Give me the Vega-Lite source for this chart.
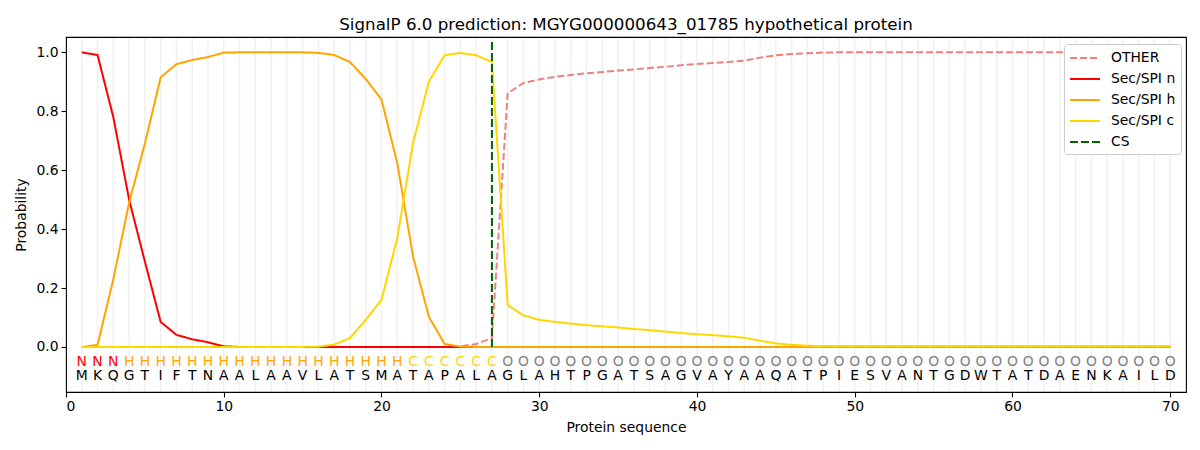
{
  "$schema": "https://vega.github.io/schema/vega-lite/v6.json",
  "width": 1120,
  "height": 355,
  "autosize": {"type": "none"},
  "padding": {"left": 66, "top": 37, "right": 14, "bottom": 58},
  "background": "white",
  "title": {
    "text": "SignalP 6.0 prediction: MGYG000000643_01785 hypothetical protein",
    "font": "DejaVu Sans",
    "fontSize": 16.7,
    "fontWeight": "normal",
    "color": "black",
    "offset": 3
  },
  "config": {
    "view": {"stroke": "black", "strokeWidth": 1.1},
    "axis": {
      "labelFont": "DejaVu Sans",
      "labelFontSize": 13.9,
      "labelColor": "black",
      "titleFont": "DejaVu Sans",
      "titleFontSize": 13.9,
      "titleFontWeight": "normal",
      "titleColor": "black",
      "tickColor": "black",
      "tickSize": 4.9,
      "tickWidth": 1.1,
      "labelPadding": 3,
      "domain": false,
      "grid": false
    },
    "legend": {
      "labelFont": "DejaVu Sans",
      "labelFontSize": 13.9,
      "labelColor": "black"
    }
  },
  "datasets": {
    "res": [
      {"pos": 1, "aa": "M", "lab": "N", "other": 0, "n": 1.0, "h": 0, "c": 0},
      {"pos": 2, "aa": "K", "lab": "N", "other": 0, "n": 0.991, "h": 0.007, "c": 0},
      {"pos": 3, "aa": "Q", "lab": "N", "other": 0, "n": 0.78, "h": 0.23, "c": 0},
      {"pos": 4, "aa": "G", "lab": "H", "other": 0, "n": 0.5, "h": 0.49, "c": 0},
      {"pos": 5, "aa": "T", "lab": "H", "other": 0, "n": 0.29, "h": 0.69, "c": 0},
      {"pos": 6, "aa": "I", "lab": "H", "other": 0, "n": 0.085, "h": 0.915, "c": 0},
      {"pos": 7, "aa": "F", "lab": "H", "other": 0, "n": 0.041, "h": 0.96, "c": 0},
      {"pos": 8, "aa": "T", "lab": "H", "other": 0, "n": 0.026, "h": 0.974, "c": 0},
      {"pos": 9, "aa": "N", "lab": "H", "other": 0, "n": 0.016, "h": 0.984, "c": 0},
      {"pos": 10, "aa": "A", "lab": "H", "other": 0, "n": 0.002, "h": 0.999, "c": 0},
      {"pos": 11, "aa": "A", "lab": "H", "other": 0, "n": 0, "h": 1.0, "c": 0},
      {"pos": 12, "aa": "L", "lab": "H", "other": 0, "n": 0, "h": 1.0, "c": 0},
      {"pos": 13, "aa": "A", "lab": "H", "other": 0, "n": 0, "h": 1.0, "c": 0},
      {"pos": 14, "aa": "A", "lab": "H", "other": 0, "n": 0, "h": 1.0, "c": 0},
      {"pos": 15, "aa": "V", "lab": "H", "other": 0, "n": 0, "h": 1.0, "c": 0},
      {"pos": 16, "aa": "L", "lab": "H", "other": 0, "n": 0, "h": 0.998, "c": 0.001},
      {"pos": 17, "aa": "A", "lab": "H", "other": 0, "n": 0, "h": 0.991, "c": 0.008},
      {"pos": 18, "aa": "T", "lab": "H", "other": 0, "n": 0, "h": 0.967, "c": 0.03},
      {"pos": 19, "aa": "S", "lab": "H", "other": 0, "n": 0, "h": 0.91, "c": 0.092},
      {"pos": 20, "aa": "M", "lab": "H", "other": 0, "n": 0, "h": 0.84, "c": 0.16},
      {"pos": 21, "aa": "A", "lab": "H", "other": 0, "n": 0, "h": 0.624, "c": 0.369},
      {"pos": 22, "aa": "T", "lab": "C", "other": 0, "n": 0, "h": 0.307, "c": 0.692},
      {"pos": 23, "aa": "A", "lab": "C", "other": 0, "n": 0, "h": 0.103, "c": 0.9},
      {"pos": 24, "aa": "P", "lab": "C", "other": 0, "n": 0, "h": 0.01, "c": 0.99},
      {"pos": 25, "aa": "A", "lab": "C", "other": 0.002, "n": 0, "h": 0.001, "c": 0.998},
      {"pos": 26, "aa": "L", "lab": "C", "other": 0.01, "n": 0, "h": 0, "c": 0.99},
      {"pos": 27, "aa": "A", "lab": "C", "other": 0.03, "n": 0, "h": 0, "c": 0.967},
      {"pos": 28, "aa": "G", "lab": "O", "other": 0.861, "n": 0, "h": 0, "c": 0.142},
      {"pos": 29, "aa": "L", "lab": "O", "other": 0.896, "n": 0, "h": 0, "c": 0.107},
      {"pos": 30, "aa": "A", "lab": "O", "other": 0.908, "n": 0, "h": 0, "c": 0.092},
      {"pos": 31, "aa": "H", "lab": "O", "other": 0.917, "n": 0, "h": 0, "c": 0.085},
      {"pos": 32, "aa": "T", "lab": "O", "other": 0.923, "n": 0, "h": 0, "c": 0.079},
      {"pos": 33, "aa": "P", "lab": "O", "other": 0.929, "n": 0, "h": 0, "c": 0.074},
      {"pos": 34, "aa": "G", "lab": "O", "other": 0.933, "n": 0, "h": 0, "c": 0.07},
      {"pos": 35, "aa": "A", "lab": "O", "other": 0.938, "n": 0, "h": 0, "c": 0.066},
      {"pos": 36, "aa": "T", "lab": "O", "other": 0.942, "n": 0, "h": 0, "c": 0.061},
      {"pos": 37, "aa": "S", "lab": "O", "other": 0.947, "n": 0, "h": 0, "c": 0.057},
      {"pos": 38, "aa": "A", "lab": "O", "other": 0.951, "n": 0, "h": 0, "c": 0.052},
      {"pos": 39, "aa": "G", "lab": "O", "other": 0.956, "n": 0, "h": 0, "c": 0.047},
      {"pos": 40, "aa": "V", "lab": "O", "other": 0.96, "n": 0, "h": 0, "c": 0.043},
      {"pos": 41, "aa": "A", "lab": "O", "other": 0.964, "n": 0, "h": 0, "c": 0.04},
      {"pos": 42, "aa": "Y", "lab": "O", "other": 0.967, "n": 0, "h": 0, "c": 0.036},
      {"pos": 43, "aa": "A", "lab": "O", "other": 0.972, "n": 0, "h": 0, "c": 0.031},
      {"pos": 44, "aa": "A", "lab": "O", "other": 0.982, "n": 0, "h": 0, "c": 0.021},
      {"pos": 45, "aa": "Q", "lab": "O", "other": 0.99, "n": 0, "h": 0, "c": 0.012},
      {"pos": 46, "aa": "A", "lab": "O", "other": 0.994, "n": 0, "h": 0, "c": 0.007},
      {"pos": 47, "aa": "T", "lab": "O", "other": 0.997, "n": 0, "h": 0, "c": 0.004},
      {"pos": 48, "aa": "P", "lab": "O", "other": 0.999, "n": 0, "h": 0, "c": 0.003},
      {"pos": 49, "aa": "I", "lab": "O", "other": 1.0, "n": 0, "h": 0, "c": 0.003},
      {"pos": 50, "aa": "E", "lab": "O", "other": 1.0, "n": 0, "h": 0, "c": 0.003},
      {"pos": 51, "aa": "S", "lab": "O", "other": 1.0, "n": 0, "h": 0, "c": 0.003},
      {"pos": 52, "aa": "V", "lab": "O", "other": 1.0, "n": 0, "h": 0, "c": 0.003},
      {"pos": 53, "aa": "A", "lab": "O", "other": 1.0, "n": 0, "h": 0, "c": 0.003},
      {"pos": 54, "aa": "N", "lab": "O", "other": 1.0, "n": 0, "h": 0, "c": 0.003},
      {"pos": 55, "aa": "T", "lab": "O", "other": 1.0, "n": 0, "h": 0, "c": 0.003},
      {"pos": 56, "aa": "G", "lab": "O", "other": 1.0, "n": 0, "h": 0, "c": 0.003},
      {"pos": 57, "aa": "D", "lab": "O", "other": 1.0, "n": 0, "h": 0, "c": 0.003},
      {"pos": 58, "aa": "W", "lab": "O", "other": 1.0, "n": 0, "h": 0, "c": 0.003},
      {"pos": 59, "aa": "T", "lab": "O", "other": 1.0, "n": 0, "h": 0, "c": 0.003},
      {"pos": 60, "aa": "A", "lab": "O", "other": 1.0, "n": 0, "h": 0, "c": 0.003},
      {"pos": 61, "aa": "T", "lab": "O", "other": 1.0, "n": 0, "h": 0, "c": 0.003},
      {"pos": 62, "aa": "D", "lab": "O", "other": 1.0, "n": 0, "h": 0, "c": 0.003},
      {"pos": 63, "aa": "A", "lab": "O", "other": 1.0, "n": 0, "h": 0, "c": 0.003},
      {"pos": 64, "aa": "E", "lab": "O", "other": 1.0, "n": 0, "h": 0, "c": 0.003},
      {"pos": 65, "aa": "N", "lab": "O", "other": 1.0, "n": 0, "h": 0, "c": 0.003},
      {"pos": 66, "aa": "K", "lab": "O", "other": 1.0, "n": 0, "h": 0, "c": 0.003},
      {"pos": 67, "aa": "A", "lab": "O", "other": 1.0, "n": 0, "h": 0, "c": 0.003},
      {"pos": 68, "aa": "I", "lab": "O", "other": 1.0, "n": 0, "h": 0, "c": 0.003},
      {"pos": 69, "aa": "L", "lab": "O", "other": 1.0, "n": 0, "h": 0, "c": 0.003},
      {"pos": 70, "aa": "D", "lab": "O", "other": 1.0, "n": 0, "h": 0, "c": 0.003}
    ],
    "cs": [
      {"pos": 27, "series": "CS", "lo": 0, "hi": 1.039}
    ]
  },
  "layer": [
    {
      "data": {"name": "res"},
      "mark": {"type": "rule", "stroke": "#f0f0f0", "strokeWidth": 1.5},
      "encoding": {
        "x": {"field": "pos", "type": "quantitative"},
        "y": {"datum": -0.15},
        "y2": {"datum": 1.049}
      }
    },
    {
      "data": {"name": "res"},
      "transform": [{"fold": ["other", "n", "h", "c"], "as": ["series", "p"]}],
      "mark": {"type": "line", "strokeWidth": 2},
      "encoding": {
        "x": {
          "field": "pos",
          "type": "quantitative",
          "scale": {"domain": [0, 71], "nice": false, "zero": false},
          "axis": {"values": [0, 10, 20, 30, 40, 50, 60, 70], "title": "Protein sequence", "titlePadding": 7}
        },
        "y": {
          "field": "p",
          "type": "quantitative",
          "scale": {"domain": [-0.153, 1.052], "nice": false, "zero": false},
          "axis": {"values": [0, 0.2, 0.4, 0.6, 0.8, 1.0], "format": ".1f", "title": "Probability", "titlePadding": 8}
        },
        "color": {
          "field": "series",
          "type": "nominal",
          "scale": {
            "domain": ["other", "n", "h", "c", "CS"],
            "range": ["#F08080", "#FF0000", "#FFA500", "#FFD700", "#006400"]
          },
          "legend": {
            "title": null,
            "orient": "none",
            "legendX": 998,
            "legendY": 7,
            "symbolType": "M-1,0H2.75",
            "symbolSize": 256,
            "symbolStrokeWidth": 2,
            "rowPadding": 5,
            "labelOffset": 24,
            "padding": 5,
            "fillColor": "white",
            "strokeColor": "#cccccc",
            "cornerRadius": 3,
            "labelExpr": "datum.label == 'other' ? 'OTHER' : datum.label == 'CS' ? 'CS' : 'Sec/SPI ' + datum.label"
          }
        },
        "strokeDash": {
          "field": "series",
          "type": "nominal",
          "scale": {
            "domain": ["other", "n", "h", "c", "CS"],
            "range": [[7, 3], [1, 0], [1, 0], [1, 0], [8, 3]]
          },
          "legend": null
        }
      }
    },
    {
      "data": {"name": "cs"},
      "mark": {"type": "rule", "strokeWidth": 2},
      "encoding": {
        "x": {"field": "pos", "type": "quantitative"},
        "y": {"field": "lo", "type": "quantitative"},
        "y2": {"field": "hi"},
        "color": {"field": "series", "type": "nominal"},
        "strokeDash": {"field": "series", "type": "nominal"}
      }
    },
    {
      "data": {"name": "res"},
      "mark": {"type": "text", "font": "DejaVu Sans", "fontSize": 13.9, "align": "center", "baseline": "middle"},
      "encoding": {
        "x": {"field": "pos", "type": "quantitative"},
        "y": {"datum": -0.05},
        "text": {"field": "lab"},
        "color": {
          "condition": [
            {"test": "datum.lab == 'N'", "value": "#FF0000"},
            {"test": "datum.lab == 'H'", "value": "#FFA500"},
            {"test": "datum.lab == 'C'", "value": "#FFD700"}
          ],
          "value": "#808080"
        }
      }
    },
    {
      "data": {"name": "res"},
      "mark": {"type": "text", "font": "DejaVu Sans", "fontSize": 13.9, "align": "center", "baseline": "middle", "color": "black"},
      "encoding": {
        "x": {"field": "pos", "type": "quantitative"},
        "y": {"datum": -0.1},
        "text": {"field": "aa"}
      }
    }
  ]
}
